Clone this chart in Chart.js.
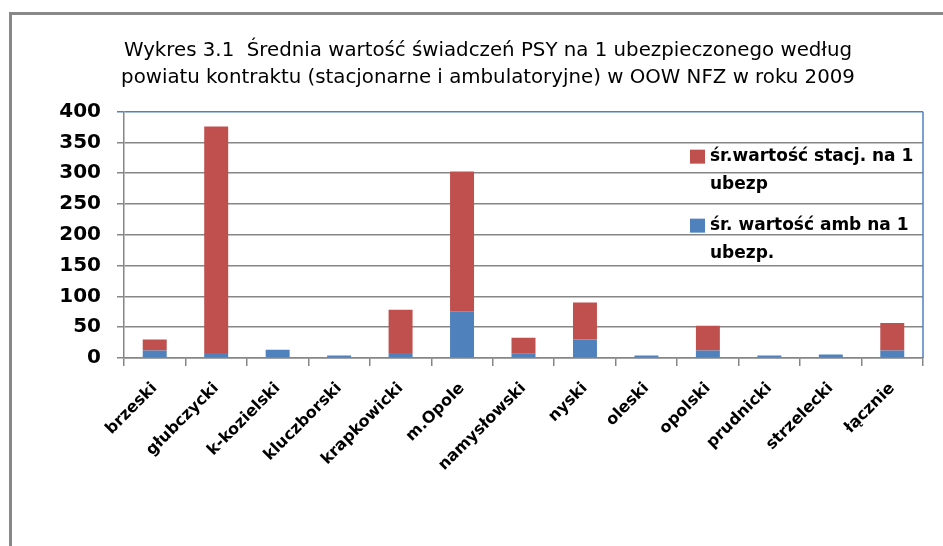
<!DOCTYPE html>
<html lang="pl">
<head>
    <meta charset="UTF-8">
    <title>Wykres 3.1</title>
    <script src="https://cdn.jsdelivr.net/npm/chart.js"></script>
    <style>
        body {
            margin: 0;
            background-color: #fff;
            overflow: hidden;
        }

        .frame {
            position: absolute;
            left: 9px;
            top: 12px;
            width: 1000px;
            height: 1000px;
            border-left: 3px solid #888;
            border-top: 3px solid #888;
        }

        canvas {
            position: absolute;
            left: 0;
            top: 0;
        }
    </style>
</head>
<body>
    <div class="frame"></div>
    <canvas id="psyChart" width="943" height="546"></canvas>

    <script>
        const titleLines = [
            'Wykres 3.1  Średnia wartość świadczeń PSY na 1 ubezpieczonego według',
            'powiatu kontraktu (stacjonarne i ambulatoryjne) w OOW NFZ w roku 2009'
        ];
        const categories = ['brzeski', 'głubczycki', 'k-kozielski', 'kluczborski', 'krapkowicki', 'm.Opole',
            'namysłowski', 'nyski', 'oleski', 'opolski', 'prudnicki', 'strzelecki', 'łącznie'];
        const ambValues = [12, 8, 13.5, 4, 8, 76, 7, 30, 4, 12, 4, 5.5, 12];
        const stacValues = [18, 368, 0, 0, 70.5, 227, 26, 60, 0, 40.5, 0, 0, 45];
        const stacLabel = ['śr.wartość stacj. na 1', 'ubezp'];
        const ambLabel = ['śr. wartość amb na 1', 'ubezp.'];

        const red = '#C0504D';
        const blue = '#4F81BD';
        const gridGray = '#868686';
        const fontName = 'DejaVu Sans';

        // legend drawn over the plot area, like in the original
        const overlayLegend = {
            id: 'overlayLegend',
            afterDatasetsDraw(chart) {
                const ctx = chart.ctx;
                const area = chart.chartArea;
                const x = area.right - 233;
                const items = [
                    { color: red, lines: stacLabel, y: area.top + 45 },
                    { color: blue, lines: ambLabel, y: area.top + 114 }
                ];
                ctx.save();
                ctx.font = 'bold 17px ' + fontName;
                ctx.textBaseline = 'middle';
                items.forEach(item => {
                    ctx.fillStyle = item.color;
                    ctx.fillRect(x, item.y - 7, 15, 14);
                    ctx.fillStyle = '#000';
                    item.lines.forEach((line, i) => {
                        ctx.fillText(line, x + 20, item.y + i * 28);
                    });
                });
                // blue right edge of plot area
                ctx.strokeStyle = blue;
                ctx.lineWidth = 1.5;
                ctx.beginPath();
                ctx.moveTo(area.right, area.top);
                ctx.lineTo(area.right, area.bottom);
                ctx.stroke();
                ctx.restore();
            }
        };

        const ctx = document.getElementById('psyChart').getContext('2d');
        const psyChart = new Chart(ctx, {
            type: 'bar',
            data: {
                labels: categories,
                datasets: [{
                    label: ambLabel.join(' '),
                    data: ambValues,
                    backgroundColor: blue
                }, {
                    label: stacLabel.join(' '),
                    data: stacValues,
                    backgroundColor: red
                }]
            },
            options: {
                responsive: false,
                animation: false,
                devicePixelRatio: 1,
                barPercentage: 0.39,
                categoryPercentage: 1,
                layout: {
                    padding: { left: 53, right: 20, top: 0, bottom: 0 }
                },
                scales: {
                    x: {
                        stacked: true,
                        afterFit: scale => { scale.height = 188; },
                        grid: {
                            offset: true,
                            drawOnChartArea: false,
                            tickLength: 8,
                            color: gridGray,
                            lineWidth: 1.5
                        },
                        border: { color: gridGray, width: 1.5 },
                        ticks: {
                            maxRotation: 45,
                            minRotation: 45,
                            autoSkip: false,
                            padding: 13,
                            color: '#000',
                            font: { family: fontName, size: 16, weight: 'bold' }
                        }
                    },
                    y: {
                        stacked: true,
                        min: 0,
                        max: 400,
                        afterFit: scale => { scale.width = 71; },
                        grid: {
                            color: c => c.tick && c.tick.value === 400 ? blue : gridGray,
                            lineWidth: 1.5,
                            tickLength: 7
                        },
                        border: { color: gridGray, width: 1.5 },
                        ticks: {
                            stepSize: 50,
                            padding: 16,
                            color: '#000',
                            font: { family: fontName, size: 20, weight: 'bold' }
                        }
                    }
                },
                plugins: {
                    legend: { display: false },
                    tooltip: { enabled: false },
                    title: {
                        display: true,
                        text: titleLines,
                        color: '#000',
                        font: { family: fontName, size: 19.8, weight: 'normal', lineHeight: 1.38 },
                        padding: { top: 37, bottom: 20 }
                    }
                }
            },
            plugins: [overlayLegend]
        });
    </script>
</body>
</html>
